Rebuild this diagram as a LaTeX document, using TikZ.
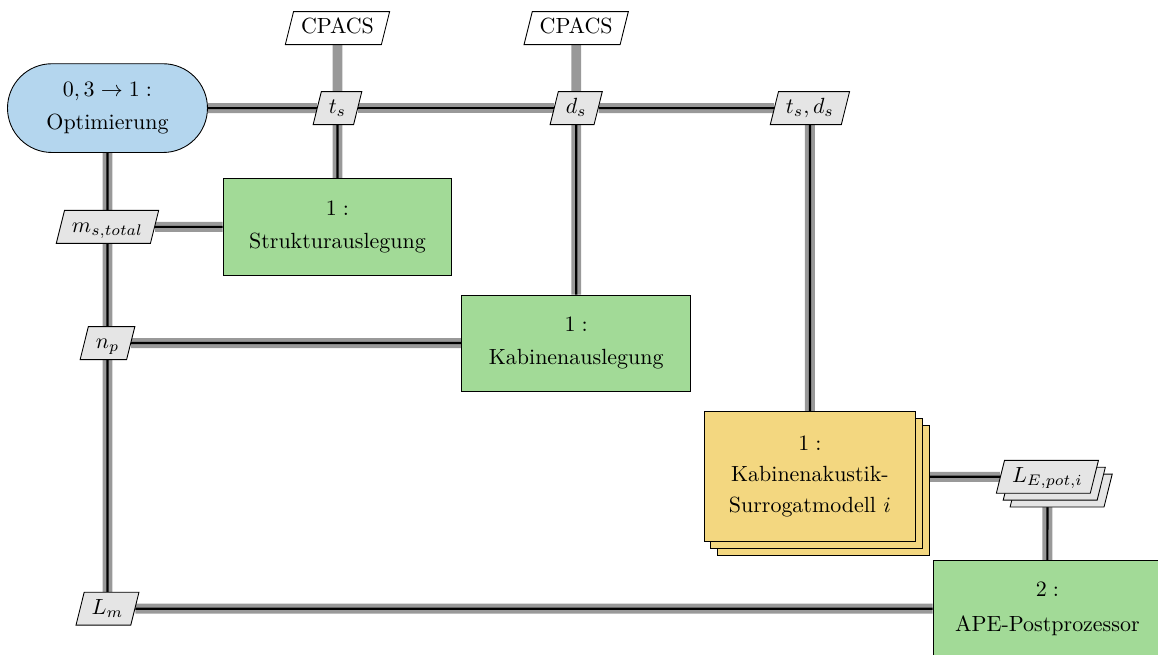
\documentclass[tikz,border=0pt]{standalone}
\usepackage{tikz}
\usetikzlibrary{positioning,shapes.geometric,shadows,backgrounds}
\definecolor{optblue}{RGB}{180,214,238}
\definecolor{funcgreen}{RGB}{162,218,151}
\definecolor{surrogateyellow}{RGB}{243,215,128}
\colorlet{datagray}{gray!20}

\tikzset{
  optimizer/.style={draw, fill=optblue, rounded corners=0.71cm, minimum width=3.2cm, minimum height=1.42cm, align=center},
  func/.style={draw, fill=funcgreen, minimum width=3.66cm, minimum height=1.54cm, align=center},
  surrogate/.style={draw, fill=surrogateyellow, minimum width=3.39cm, minimum height=2.08cm, align=center,
    copy shadow={shadow xshift=2.2mm, shadow yshift=-2.2mm, draw=black, fill=surrogateyellow},
    copy shadow={shadow xshift=1.1mm, shadow yshift=-1.1mm, draw=black, fill=surrogateyellow}},
  datanode/.style={draw, fill=datagray, trapezium, trapezium left angle=76, trapezium right angle=104,
    text height=7pt, text depth=2pt, inner xsep=3.4pt, inner ysep=3pt},
  datastack/.style={datanode,
    copy shadow={shadow xshift=2.2mm, shadow yshift=-2.2mm, draw=black, fill=datagray},
    copy shadow={shadow xshift=1.1mm, shadow yshift=-1.1mm, draw=black, fill=datagray}},
  ionode/.style={datanode, fill=white},
  dataline/.style={gray!80, line width=4.5pt},
  processline/.style={black, line width=1pt},
}

\begin{document}
\begin{tikzpicture}

    \useasboundingbox (0,0) rectangle (18.53,-10.48);

    % components on the diagonal
    \node[optimizer] (opt) at (1.72,-1.73) {$0, 3 \to 1:$\\[3pt]Optimierung};
    \node[func] (struct) at (5.40,-3.63) {$1:$\\[3pt]Strukturauslegung};
    \node[func] (kabine) at (9.22,-5.49) {$1:$\\[3pt]Kabinenauslegung};
    \node[surrogate] (akustik) at (12.96,-7.63) {$1:$\\[2pt]Kabinenakustik-\\[2pt]Surrogatmodell $i$};
    \node[func] (ape) at (16.76,-9.74) {$2:$\\[4pt]APE-Postprozessor};

    % inputs
    \node[ionode] (cpacsA) at (5.40,-0.45) {CPACS};
    \node[ionode] (cpacsB) at (9.22,-0.45) {CPACS};

    % data exchanged
    \node[datanode] (ts) at (5.40,-1.73) {$t_s$};
    \node[datanode] (ds) at (9.22,-1.73) {$d_s$};
    \node[datanode] (tsds) at (12.96,-1.73) {$t_s, d_s$};
    \node[datanode] (ms) at (1.72,-3.63) {$m_{s,total}$};
    \node[datanode] (np) at (1.72,-5.49) {$n_p$};
    \node[datastack] (LE) at (16.76,-7.63) {$L_{E,pot,i}$};
    \node[datanode] (Lm) at (1.72,-9.74) {$L_m$};

    \begin{scope}[on background layer]
        \foreach \a/\b in {cpacsA/ts, cpacsB/ds, opt/ts, ts/ds, ds/tsds,
                            ts/struct, ds/kabine, tsds/akustik,
                            opt/ms, ms/np, np/Lm, struct/ms, kabine/np,
                            akustik/LE, LE/ape, ape/Lm}{
            \draw[dataline] (\a) -- (\b);
        }
        \foreach \a/\b in {opt/ts, ts/ds, ds/tsds,
                            ts/struct, ds/kabine, tsds/akustik,
                            opt/ms, ms/np, np/Lm, struct/ms, kabine/np,
                            akustik/LE, LE/ape, ape/Lm}{
            \draw[processline] (\a) -- (\b);
        }
    \end{scope}

\end{tikzpicture}
\end{document}
